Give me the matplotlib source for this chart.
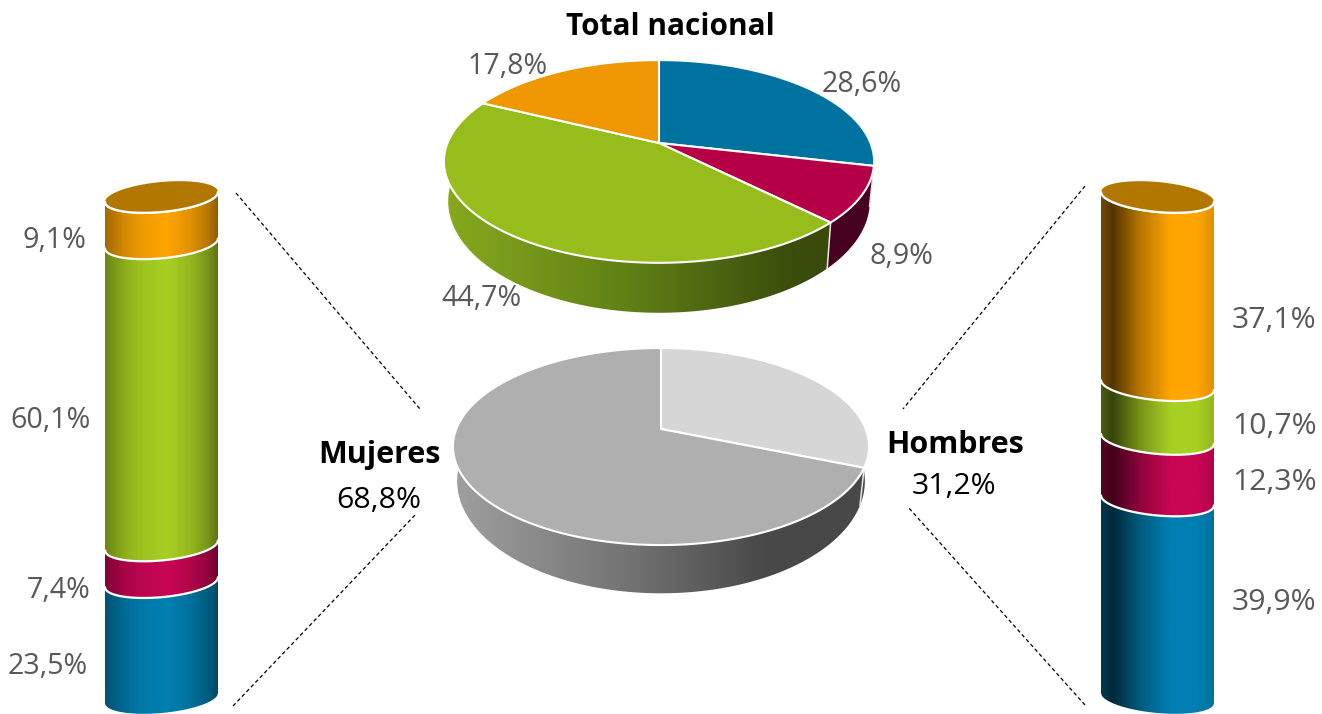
import numpy as np
import matplotlib
matplotlib.use('Agg')
import matplotlib.pyplot as plt
from matplotlib.patches import Polygon

plt.rcParams['font.family'] = ['Open Sans', 'DejaVu Sans']

# shares, same order everywhere: blue, red, green, orange
total_values = [28.6, 8.9, 44.7, 17.8]
women_values = [23.5, 7.4, 60.1, 9.1]
men_values = [39.9, 12.3, 10.7, 37.1]
gender_names = ['Hombres', 'Mujeres']
gender_values = [31.2, 68.8]
title = 'Total nacional'

pie_colors = ['#0072A0', '#B50048', '#97BD1C', '#EE9700']
cyl_colors = [(0, 128, 178), (200, 6, 84), (168, 208, 34), (255, 165, 0)]
lid_color = '#B27700'
label_grey = '#595959'

W, H = 1322, 714
fig = plt.figure(figsize=(W / 100, H / 100), dpi=100)
ax = fig.add_axes([0, 0, 1, 1])


def pct(v):
    return f'{v:.1f}%'.replace('.', ',')


def gradient(stops):
    # stops: (position 0-1, (r, g, b))
    pos = np.linspace(0, 1, 256)
    xs = [s[0] for s in stops]
    img = [np.interp(pos, xs, [s[1][c] for s in stops]) for c in range(3)]
    return np.dstack(img) / 255


def fill_gradient(points, stops, x0, x1, zorder):
    patch = Polygon(points, closed=True, transform=ax.transData, fc='none', ec='none')
    ax.add_patch(patch)
    im = ax.imshow(gradient(stops), extent=[x0, x1, H, 0], aspect='auto',
                   interpolation='bilinear', zorder=zorder)
    im.set_clip_path(patch)


def pie_3d(values, colors, side_stops, cx, cy, a, b, k, sx, sy, drop):
    fracs = np.cumsum([0] + list(values)) / sum(values)

    def top_xy(th):
        u, v = np.sin(th), np.cos(th)
        w = 1 + k * v
        return a * u / w, b * v / w

    def arc_top(th):
        x, y = top_xy(th)
        return np.column_stack([cx + x, cy - y])

    def arc_bottom(th):
        x, y = top_xy(th)
        return np.column_stack([cx + x * sx, cy - y * sy + drop])

    x0, x1 = cx - a * 1.03, cx + a * 1.03
    slices = [(fracs[i], fracs[i + 1], i) for i in range(len(values))]
    slices.sort(key=lambda s: -np.cos(np.pi * (s[0] + s[1])))
    for f0, f1, i in slices:
        th = np.linspace(f0, f1, 200) * 2 * np.pi
        pts = np.vstack([arc_top(th), arc_bottom(th)[::-1]])
        fill_gradient(pts, side_stops[i], x0, x1, 2)
    for f in fracs[:-1]:
        th = np.array([f * 2 * np.pi])
        if np.cos(th[0]) < 0:
            p = np.vstack([arc_top(th), arc_bottom(th)])
            ax.plot(p[:, 0], p[:, 1], color='#E8E8E8', lw=1.1, zorder=3)
    for i in range(len(values)):
        th = np.linspace(fracs[i], fracs[i + 1], 200) * 2 * np.pi
        pts = np.vstack([[cx, cy], arc_top(th)])
        ax.add_patch(Polygon(pts, closed=True, fc=colors[i], ec='white', lw=1.5,
                             joinstyle='round', zorder=4))


def cylinder(values, cx, tilt, shade):
    a, b = 56.5, 15
    top, bottom = 197, 698
    frac = np.cumsum([0] + list(values)) / sum(values)
    # the upper part looks a bit longer because of the perspective
    frac = frac - 0.02 * frac * (1 - frac)
    yc = bottom - (bottom - top) * frac
    t = np.linspace(-1, 1, 200)
    xs = cx + a * t

    def arc(y):
        return np.column_stack([xs, y + tilt * t + b * np.sqrt(1 - t ** 2)])

    for i in range(len(values)):
        pts = np.vstack([arc(yc[i + 1]), arc(yc[i])[::-1]])
        stops = [(p, tuple(c * m for c in cyl_colors[i])) for p, m in shade]
        fill_gradient(pts, stops, cx - a, cx + a, 2)
    for y in yc[1:]:
        p = arc(y)
        ax.plot(p[:, 0], p[:, 1], color='white', lw=1.6, zorder=3,
                solid_capstyle='round')
    phi = np.linspace(0, 2 * np.pi, 200)
    lid = np.column_stack([cx + a * np.cos(phi),
                           top + tilt * np.cos(phi) + b * np.sin(phi)])
    ax.add_patch(Polygon(lid, closed=True, fc=lid_color, ec='none', zorder=4))
    p = arc(top)
    ax.plot(p[:, 0], p[:, 1], color='white', lw=1.6, zorder=5)


dark_red = (70, 0, 32)
top_sides = [
    [(0, (0, 50, 70)), (1, (0, 50, 70))],
    [(0, dark_red), (1, dark_red)],
    [(0, (135, 170, 30)), (0.45, (95, 125, 22)), (0.8, (58, 78, 12)), (1, (58, 70, 10))],
    [(0, (120, 75, 0)), (1, (120, 75, 0))],
]
pie_3d(total_values, pie_colors, top_sides, 659, 143, 211.5, 98, 0.182, 0.98, 1.1, 38)

gray_sides = [
    [(0, (70, 70, 70)), (1, (70, 70, 70))],
    [(0, (160, 160, 160)), (0.45, (112, 112, 112)), (0.75, (72, 72, 72)), (1, (72, 72, 72))],
]
pie_3d(gender_values, ['#D6D6D6', '#AFAFAF'], gray_sides, 661, 429, 204.7, 95.4, 0.178, 0.98, 1.14, 32)

left_shade = [(0, 0.64), (0.18, 0.84), (0.31, 0.93), (0.55, 1.0), (0.76, 0.88), (0.91, 0.72), (1, 0.56)]
right_shade = [(0, 0.45), (0.1, 0.32), (0.2, 0.48), (0.35, 0.72), (0.62, 1.0), (0.85, 1.0), (1, 0.88)]
cylinder(women_values, 161.5, -5, left_shade)
cylinder(men_values, 1157.5, 5, right_shade)

# dashed connectors
for x, y in [((236, 420), (193, 409)), ((233, 416), (706, 514)),
             ((1085, 903), (186, 409)), ((1085, 908), (705, 507))]:
    ax.plot(x, y, color='black', lw=0.9, ls=(0, (3, 2.2)), zorder=1)

fs = 20.6
fs_big = 21.8
fs_bold = 22
ax.text(670, 27, title, fontsize=21.4, fontweight='bold', color='black', ha='center', va='center')

for v, x, y in zip(total_values, [862, 901, 481, 508], [85, 256, 299, 66]):
    ax.text(x, y, pct(v), fontsize=fs, color=label_grey, ha='center', va='center')
for v, x, y in zip(women_values, [48, 59, 50, 54], [666, 590, 420, 241]):
    ax.text(x, y, pct(v), fontsize=fs, color=label_grey, ha='center', va='center')
for v, x, y in zip(men_values, [1274, 1275, 1275, 1274], [603, 483, 426, 320]):
    ax.text(x, y, pct(v), fontsize=fs_big, color=label_grey, ha='center', va='center')

ax.text(955, 445, gender_names[0], fontsize=fs_bold, fontweight='bold', ha='center', va='center')
ax.text(954, 487, pct(gender_values[0]), fontsize=fs_big, ha='center', va='center')
ax.text(379, 455, gender_names[1], fontsize=fs_bold, fontweight='bold', ha='center', va='center')
ax.text(379, 500, pct(gender_values[1]), fontsize=fs_big, ha='center', va='center')

ax.set_xlim(0, W)
ax.set_ylim(H, 0)
ax.axis('off')
fig.savefig('out.png', dpi=100)
